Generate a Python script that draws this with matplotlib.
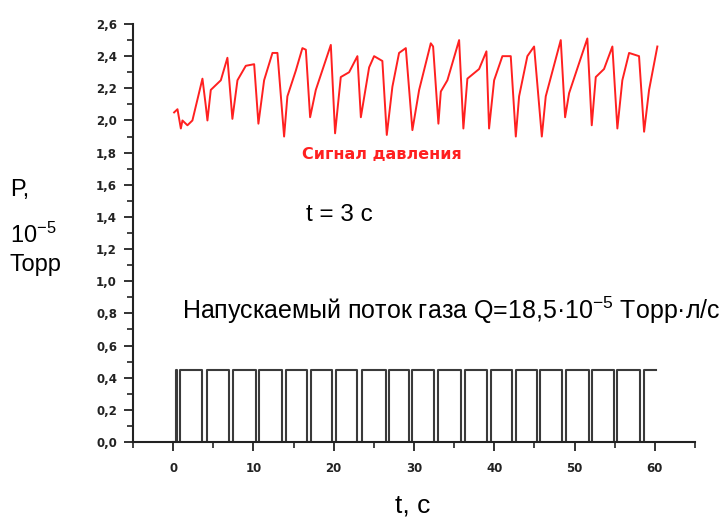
import matplotlib
matplotlib.use("Agg")
import matplotlib.pyplot as plt
from matplotlib.ticker import MultipleLocator, FuncFormatter

plt.rcParams['mathtext.fontset'] = 'custom'
plt.rcParams['mathtext.rm'] = 'Liberation Sans'
plt.rcParams['mathtext.it'] = 'Liberation Sans:italic'
plt.rcParams['mathtext.bf'] = 'Liberation Sans:bold'

# ---- pressure signal (red): time [s], P [1e-5 Torr]
press_t = [0.12, 0.54, 0.96, 1.16, 1.78, 2.40, 3.65, 4.07, 4.27, 4.69, 5.94, 6.76,
           7.38, 8.01, 9.05, 10.09, 10.62, 11.33, 12.37, 12.99, 13.82, 14.23, 15.28,
           16.10, 16.53, 17.06, 17.77, 19.64, 20.17, 20.88, 21.92, 22.95, 23.38,
           24.41, 25.03, 26.06, 26.61, 27.31, 28.14, 28.98, 29.80, 30.64, 32.09,
           32.38, 33.04, 33.34, 34.16, 35.62, 36.15, 36.65, 38.11, 39.02, 39.35,
           39.98, 41.01, 42.05, 42.68, 43.09, 44.12, 44.96, 45.92, 46.41, 48.28,
           48.82, 49.32, 51.59, 52.14, 52.64, 53.67, 54.71, 55.33, 55.95, 56.79,
           58.03, 58.66, 59.28, 60.31]
press_p = [2.05, 2.07, 1.95, 2.00, 1.97, 2.00, 2.26, 2.09, 2.00, 2.19, 2.25, 2.39,
           2.01, 2.25, 2.34, 2.35, 1.98, 2.25, 2.42, 2.42, 1.90, 2.15, 2.31,
           2.45, 2.44, 2.02, 2.19, 2.47, 1.92, 2.27, 2.30, 2.40, 2.02,
           2.33, 2.40, 2.37, 1.91, 2.21, 2.42, 2.45, 1.94, 2.19, 2.48,
           2.46, 1.98, 2.18, 2.25, 2.50, 1.95, 2.26, 2.32, 2.43, 1.95,
           2.25, 2.40, 2.40, 1.90, 2.15, 2.40, 2.46, 1.90, 2.15, 2.50,
           2.02, 2.17, 2.51, 1.97, 2.27, 2.32, 2.46, 1.95, 2.25, 2.42,
           2.40, 1.93, 2.19, 2.46]

# ---- gas inlet valve signal (square wave)
valve_level = 0.45
valve_start_t = [0.0, 0.33, 0.50, 0.83]
valve_start_v = [0.0, 0.45, 0.0, 0.45]
gap_start = [3.65, 7.00, 10.30, 13.50, 16.70, 19.80, 22.95, 26.50, 29.35, 32.55,
             35.80, 39.10, 42.25, 45.30, 48.45, 51.80, 54.90, 58.10]
gap_end = [4.20, 7.45, 10.70, 14.05, 17.20, 20.30, 23.55, 26.90, 29.75, 33.05,
           36.30, 39.60, 42.70, 45.70, 48.95, 52.20, 55.30, 58.60]
valve_end_t = 60.15

x_ticks = [0, 10, 20, 30, 40, 50, 60]

# build step arrays
vt = list(valve_start_t)
vv = list(valve_start_v)
for s, e in zip(gap_start, gap_end):
    vt += [s, e]
    vv += [0.0, valve_level]
vt.append(valve_end_t)
vv.append(valve_level)

fig = plt.figure(figsize=(7.26, 5.17), dpi=100)
ax = fig.add_axes([133/726, 75/517, (695-133)/726, (442-24)/517])

ax.plot(vt, vv, drawstyle='steps-post', color='#3a3a3a', lw=1.5)
ax.plot(press_t, press_p, color='#ff2020', lw=1.4)

ax.set_xlim(-5, 65)
ax.set_ylim(0, 2.6)
for s in ['top', 'right']:
    ax.spines[s].set_visible(False)
for s in ['left', 'bottom']:
    ax.spines[s].set_linewidth(1.5)
    ax.spines[s].set_color('#222222')

ax.set_xticks(x_ticks)
ax.xaxis.set_minor_locator(MultipleLocator(5))
ax.yaxis.set_major_locator(MultipleLocator(0.2))
ax.yaxis.set_minor_locator(MultipleLocator(0.1))
ax.yaxis.set_major_formatter(FuncFormatter(lambda v, p: f"{v:.1f}".replace('.', ',')))
ax.tick_params(which='major', length=6.5, width=1.3, color='#222222', labelsize=8.5)
ax.tick_params(axis='y', which='major', pad=5)
ax.tick_params(axis='x', which='major', pad=8)
ax.tick_params(which='minor', length=4.5, width=1.2, color='#222222')
for lab in ax.get_xticklabels() + ax.get_yticklabels():
    lab.set_fontweight('bold')
    lab.set_family('DejaVu Sans')
    lab.set_color('#222222')

fam = 'Liberation Sans'
fig.text(382/726, 1 - 155/517, 'Сигнал давления', color='#ff2020', fontsize=11.5,
         fontweight='bold', ha='center', va='center', family='DejaVu Sans')
fig.text(339/726, 1 - 215/517, 't = 3 с', fontsize=17.5, ha='center', va='center', family=fam)
fig.text(182/726, 1 - 310/517, r'Напускаемый поток газа Q=18,5·10$^{-5}$ Торр·л/с',
         fontsize=18, ha='left', va='center', family=fam)
fig.text(10/726, 1 - 190/517, 'P,', fontsize=17, ha='left', va='center', family=fam)
fig.text(10/726, 1 - 235/517, r'10$^{-5}$', fontsize=17, ha='left', va='center', family=fam)
fig.text(10/726, 1 - 265/517, 'Торр', fontsize=17, ha='left', va='center', family=fam)
fig.text(413/726, 1 - 506/517, 't, с', fontsize=19, ha='center', va='center', family=fam)

fig.savefig('out.png', dpi=100)
